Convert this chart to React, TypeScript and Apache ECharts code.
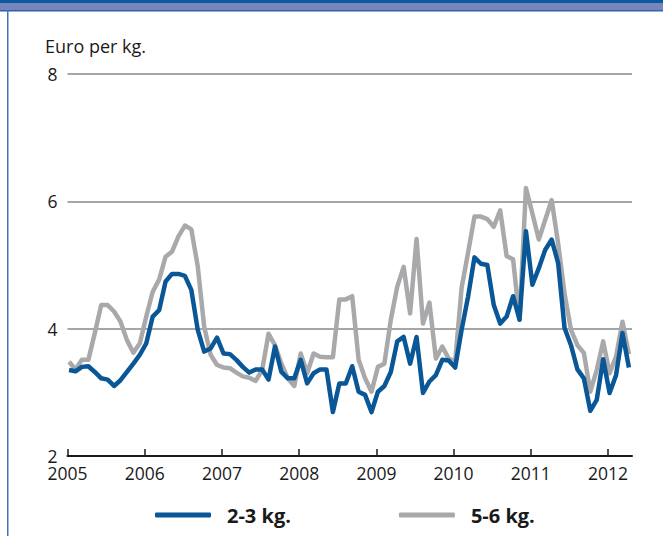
import React, { useEffect, useRef } from "react";
import * as echarts from "echarts";

const startYear = 2005;
const yearTicks = ["2005", "2006", "2007", "2008", "2009", "2010", "2011", "2012"];
const seriesNames = ["2-3 kg.", "5-6 kg."];

// Monthly prices Jan 2005 - Apr 2012 (Euro per kg)
const small = [
  3.35, 3.33, 3.40, 3.41, 3.32, 3.22, 3.20, 3.10, 3.19, 3.32, 3.45, 3.59,
  3.77, 4.19, 4.29, 4.74, 4.86, 4.86, 4.83, 4.61, 3.98, 3.64, 3.69, 3.86,
  3.61, 3.60, 3.51, 3.40, 3.31, 3.36, 3.36, 3.20, 3.72, 3.32, 3.22, 3.22,
  3.51, 3.14, 3.30, 3.36, 3.36, 2.69, 3.14, 3.14, 3.41, 3.01, 2.96, 2.69,
  3.01, 3.10, 3.32, 3.80, 3.87, 3.45, 3.87, 2.99, 3.17, 3.27, 3.51, 3.50,
  3.39, 3.98, 4.50, 5.12, 5.02, 5.00, 4.37, 4.08, 4.19, 4.51, 4.14, 5.53,
  4.69, 4.95, 5.24, 5.40, 5.03, 4.01, 3.74, 3.36, 3.22, 2.71, 2.88, 3.52,
  2.99, 3.27, 3.93, 3.39,
];
const large = [
  3.48, 3.36, 3.51, 3.51, 3.93, 4.37, 4.37, 4.27, 4.11, 3.82, 3.62, 3.77,
  4.19, 4.58, 4.77, 5.13, 5.21, 5.45, 5.62, 5.56, 4.98, 4.03, 3.59, 3.43,
  3.39, 3.38, 3.31, 3.25, 3.23, 3.18, 3.35, 3.92, 3.74, 3.45, 3.22, 3.10,
  3.61, 3.30, 3.61, 3.56, 3.55, 3.55, 4.46, 4.46, 4.51, 3.51, 3.22, 3.01,
  3.40, 3.45, 4.14, 4.66, 4.97, 4.24, 5.41, 4.08, 4.41, 3.53, 3.72, 3.53,
  3.48, 4.64, 5.19, 5.76, 5.76, 5.72, 5.60, 5.86, 5.14, 5.09, 4.14, 6.21,
  5.81, 5.40, 5.71, 6.02, 5.34, 4.55, 3.98, 3.74, 3.62, 3.01, 3.35, 3.80,
  3.30, 3.56, 4.11, 3.60,
];

const BLUE = "#0a5797";
const GRAY = "#a9a9ab";
const FONT = "'Open Sans', 'Noto Sans', sans-serif";

const toPairs = (arr: number[]) => arr.map((v, i) => [startYear + i / 12 + 0.02, v]);

export default function App() {
  const ref = useRef<HTMLDivElement>(null);
  useEffect(() => {
    if (!ref.current) return;
    const chart = echarts.init(ref.current, null, { renderer: "svg" });
    chart.setOption({
      animation: false,
      backgroundColor: "#ffffff",
      textStyle: { fontFamily: FONT },
      grid: { left: 67.5, right: 31, top: 74, bottom: 80 },
      graphic: [
        { type: "rect", shape: { x: 0, y: 0, width: 663, height: 3 }, style: { fill: "#0b5a9e" } },
        { type: "rect", shape: { x: 0, y: 3, width: 663, height: 7 }, style: { fill: "#7884bd" } },
        { type: "rect", shape: { x: 0, y: 10, width: 663, height: 1.5 }, style: { fill: "#2f63a8" } },
        { type: "rect", shape: { x: 7, y: 10, width: 1.5, height: 526 }, style: { fill: "#3f74b8" } },
        {
          type: "text",
          left: 45,
          top: 37,
          style: { text: "Euro per kg.", fontSize: 18, fill: "#1a1a1a", fontFamily: FONT },
        },
      ],
      legend: {
        top: 505,
        left: 155,
        itemWidth: 56,
        itemHeight: 5,
        itemGap: 108,
        icon: "roundRect",
        padding: 0,
        textStyle: {
          fontSize: 20,
          fontWeight: "bold",
          color: "#1a1a1a",
          fontFamily: FONT,
          padding: [0, 0, 0, 11],
        },
        data: [
          { name: seriesNames[0], itemStyle: { color: BLUE } },
          { name: seriesNames[1], itemStyle: { color: GRAY } },
        ],
      },
      xAxis: {
        type: "value",
        min: 2005,
        max: 2012.31,
        interval: 1,
        axisLine: { show: true, lineStyle: { color: "#1a1a1a", width: 2 } },
        axisTick: { show: true, inside: true, length: 7, lineStyle: { color: "#1a1a1a", width: 1.5 } },
        axisLabel: {
          fontSize: 17.5,
          lineHeight: 14,
          color: "#1a1a1a",
          margin: 10,
          fontFamily: FONT,
          showMaxLabel: false,
          formatter: (v: number) => {
            const idx = Math.round(v) - startYear;
            return Math.abs(v - Math.round(v)) < 1e-6 && yearTicks[idx] ? yearTicks[idx] : "";
          },
        },
        splitLine: { show: false },
      },
      yAxis: {
        type: "value",
        min: 2,
        max: 8,
        interval: 2,
        axisLine: { show: false },
        axisTick: { show: false },
        axisLabel: { fontSize: 17.5, lineHeight: 14, color: "#1a1a1a", margin: 10, fontFamily: FONT },
        splitLine: { show: true, lineStyle: { color: "#a6a6a6", width: 2 } },
      },
      series: [
        {
          name: seriesNames[1],
          type: "line",
          data: toPairs(large),
          showSymbol: false,
          lineStyle: { color: GRAY, width: 4.5, join: "round" },
          itemStyle: { color: GRAY },
          z: 2,
        },
        {
          name: seriesNames[0],
          type: "line",
          data: toPairs(small),
          showSymbol: false,
          lineStyle: { color: BLUE, width: 4.5, join: "round" },
          itemStyle: { color: BLUE },
          z: 3,
        },
      ],
    });
    return () => chart.dispose();
  }, []);
  return (
    <div
      ref={ref}
      style={{ position: "fixed", left: 0, top: 0, width: 663, height: 536, background: "#fff" }}
    />
  );
}
